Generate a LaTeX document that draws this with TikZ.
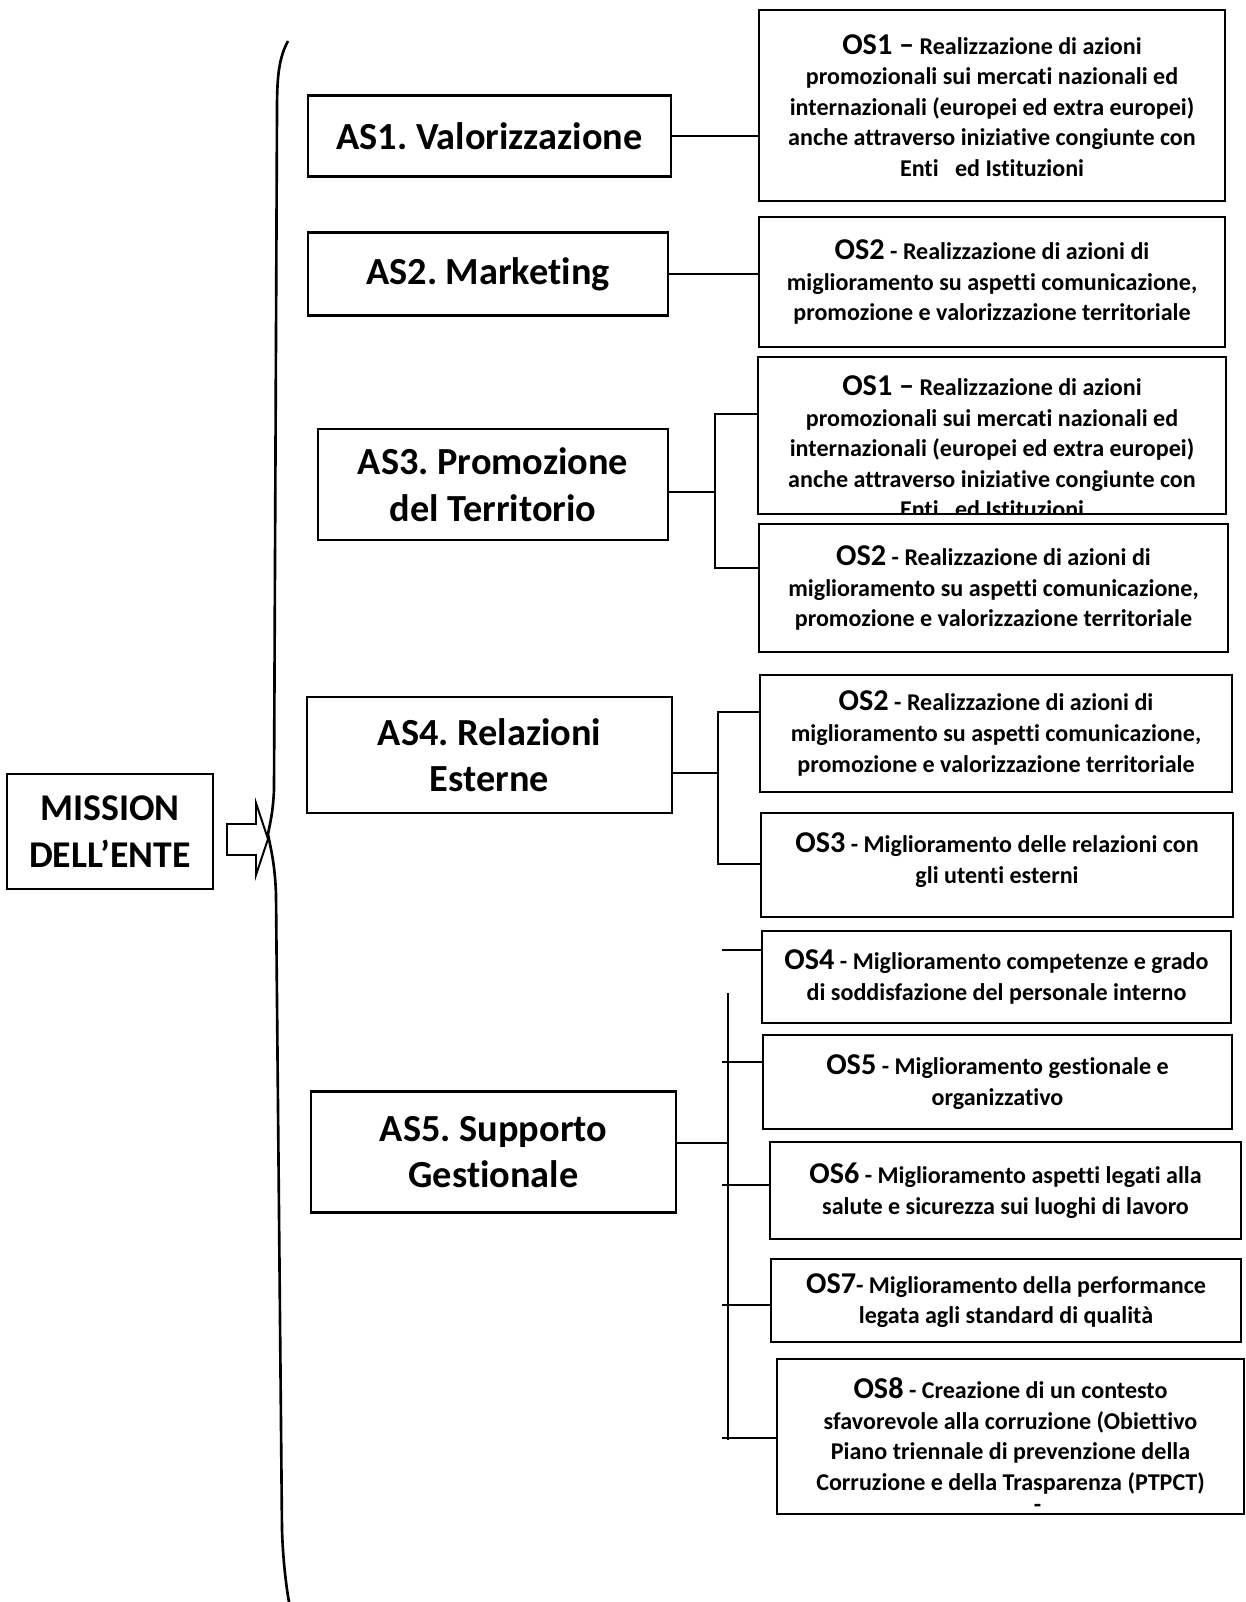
\documentclass[tikz,border=0pt]{standalone}
\usepackage{fontspec}
\setmainfont{Carlito}[Ligatures={TeX,NoCommon}]
\frenchspacing
\newcommand\oslab[1]{{\fontsize{17.2}{17.4}\selectfont #1}}
\begin{document}
\begin{tikzpicture}[x=0.02cm, y=-0.02cm,
  box/.style={draw, line width=1.3pt, inner sep=0pt, align=center},
  asbox/.style 2 args={box, minimum width=#1cm, minimum height=#2cm, font=\fontsize{21.8}{26.5}\selectfont\bfseries},
  osbox/.style 2 args={box, minimum width=#1cm, minimum height=#2cm, font=\fontsize{13.7}{17.4}\selectfont\bfseries},
  link/.style={line width=1.1pt}]
\useasboundingbox (0,0) rectangle (1246,1602);
\node[asbox={4.12}{2.30}, font=\fontsize{21.5}{26.5}\selectfont\bfseries] (mission) at (110,831.5) {MISSION\\DELL’ENTE};
\draw[line width=1.1pt] (227,824) -- (256,824) -- (256,803) -- (268,839) -- (256,875) -- (256,855) -- (227,855) -- cycle;
\draw[line width=1.5pt] (288,41) .. controls (279,58) and (277,75) .. (277,110) -- (274,790) .. controls (273,812) and (270,824) .. (268,834) .. controls (270,846) and (275,862) .. (276,895) -- (282,1530) .. controls (283,1560) and (286,1585) .. (289,1602);
\node[asbox={7.26}{1.62}] (as1) at (489.5,136) {AS1. Valorizzazione};
\node[asbox={7.20}{1.66}] (as2) at (488,274) {AS2. Marketing};
\node[asbox={7.00}{2.22}] (as3) at (493,484.5) {AS3. Promozione\\del Territorio};
\node[asbox={7.30}{2.32}] (as4) at (489.5,755) {AS4. Relazioni\\Esterne};
\node[asbox={7.30}{2.42}] (as5) at (493.5,1152) {AS5. Supporto\\Gestionale};
\node[osbox={9.32}{3.82}] (os1a) at (992,105.5) {\oslab{OS1 –} Realizzazione di azioni\\promozionali sui mercati nazionali ed\\internazionali (europei ed extra europei)\\anche attraverso iniziative congiunte con\\Enti\ \ \ ed Istituzioni};
\node[osbox={9.32}{2.60}] (os2a) at (992,282) {\oslab{OS2} - Realizzazione di azioni di\\miglioramento su aspetti comunicazione,\\promozione e valorizzazione territoriale};
\begin{scope}
\clip (758,357) rectangle (1226,514);
\node[osbox={9.36}{3.14}, draw=none] (os1btext) at (992,447) {\oslab{OS1 –} Realizzazione di azioni\\promozionali sui mercati nazionali ed\\internazionali (europei ed extra europei)\\anche attraverso iniziative congiunte con\\Enti\ \ \ ed Istituzioni};
\end{scope}
\node[osbox={9.36}{3.14}] (os1b) at (992,435.5) {};
\node[osbox={9.38}{2.56}] (os2b) at (993.5,588) {\oslab{OS2} - Realizzazione di azioni di\\miglioramento su aspetti comunicazione,\\promozione e valorizzazione territoriale};
\node[osbox={9.44}{2.34}] (os2c) at (996,733.5) {\oslab{OS2} - Realizzazione di azioni di\\miglioramento su aspetti comunicazione,\\promozione e valorizzazione territoriale};
\node[osbox={9.44}{2.08}] (os3) at (997,865) {\oslab{OS3} - Miglioramento delle relazioni con\\gli utenti esterni\\[-9.4pt]\mbox{}};
\node[osbox={9.38}{1.84}] (os4) at (996.5,977) {\oslab{OS4} - Miglioramento competenze e grado\\di soddisfazione del personale interno};
\node[osbox={9.38}{1.88}] (os5) at (997.5,1082) {\oslab{OS5} - Miglioramento gestionale e\\organizzativo};
\node[osbox={9.42}{1.94}] (os6) at (1005.5,1190.5) {\oslab{OS6} - Miglioramento aspetti legati alla\\salute e sicurezza sui luoghi di lavoro};
\node[osbox={9.40}{1.66}] (os7) at (1006,1300.5) {\oslab{OS7}- Miglioramento della performance\\legata agli standard di qualità};
\node[osbox={9.34}{3.10}] (os8) at (1010.5,1436.5) {\rule{0pt}{21.5pt}\oslab{OS8} - Creazione di un contesto\\sfavorevole alla corruzione (Obiettivo\\Piano triennale di prevenzione della\\Corruzione e della Trasparenza (PTPCT)\\[-4.9pt]\hspace*{1.08cm}-};
\draw[link] (as1.east) -- (as1.east -| os1a.west);
\draw[link] (as2.east) -- (as2.east -| os2a.west);
\coordinate (b3t) at (715,414);
\coordinate (b3m) at (715,492);
\coordinate (b3b) at (715,568);
\draw[link] (os1b.west |- b3t) -- (b3t) -- (b3b) -- (os2b.west |- b3b);
\draw[link] (as3.east |- b3m) -- (b3m);
\coordinate (b4t) at (718,712);
\coordinate (b4m) at (718,773);
\coordinate (b4b) at (718,864);
\draw[link] (os2c.west |- b4t) -- (b4t) -- (b4b) -- (os3.west |- b4b);
\draw[link] (as4.east |- b4m) -- (b4m);
\coordinate (b5t) at (728,993);
\coordinate (b5m) at (728,1143);
\coordinate (b5b) at (728,1440);
\draw[link] (b5t) -- (b5b);
\draw[link] (as5.east |- b5m) -- (b5m);
\foreach \o/\y in {4/950,5/1062,6/1185,7/1305,8/1438}
  \coordinate (k\o) at (722,\y);
\foreach \o in {4,...,8}
  \draw[link] (k\o) -- (k\o -| os\o.west);
\end{tikzpicture}
\end{document}
